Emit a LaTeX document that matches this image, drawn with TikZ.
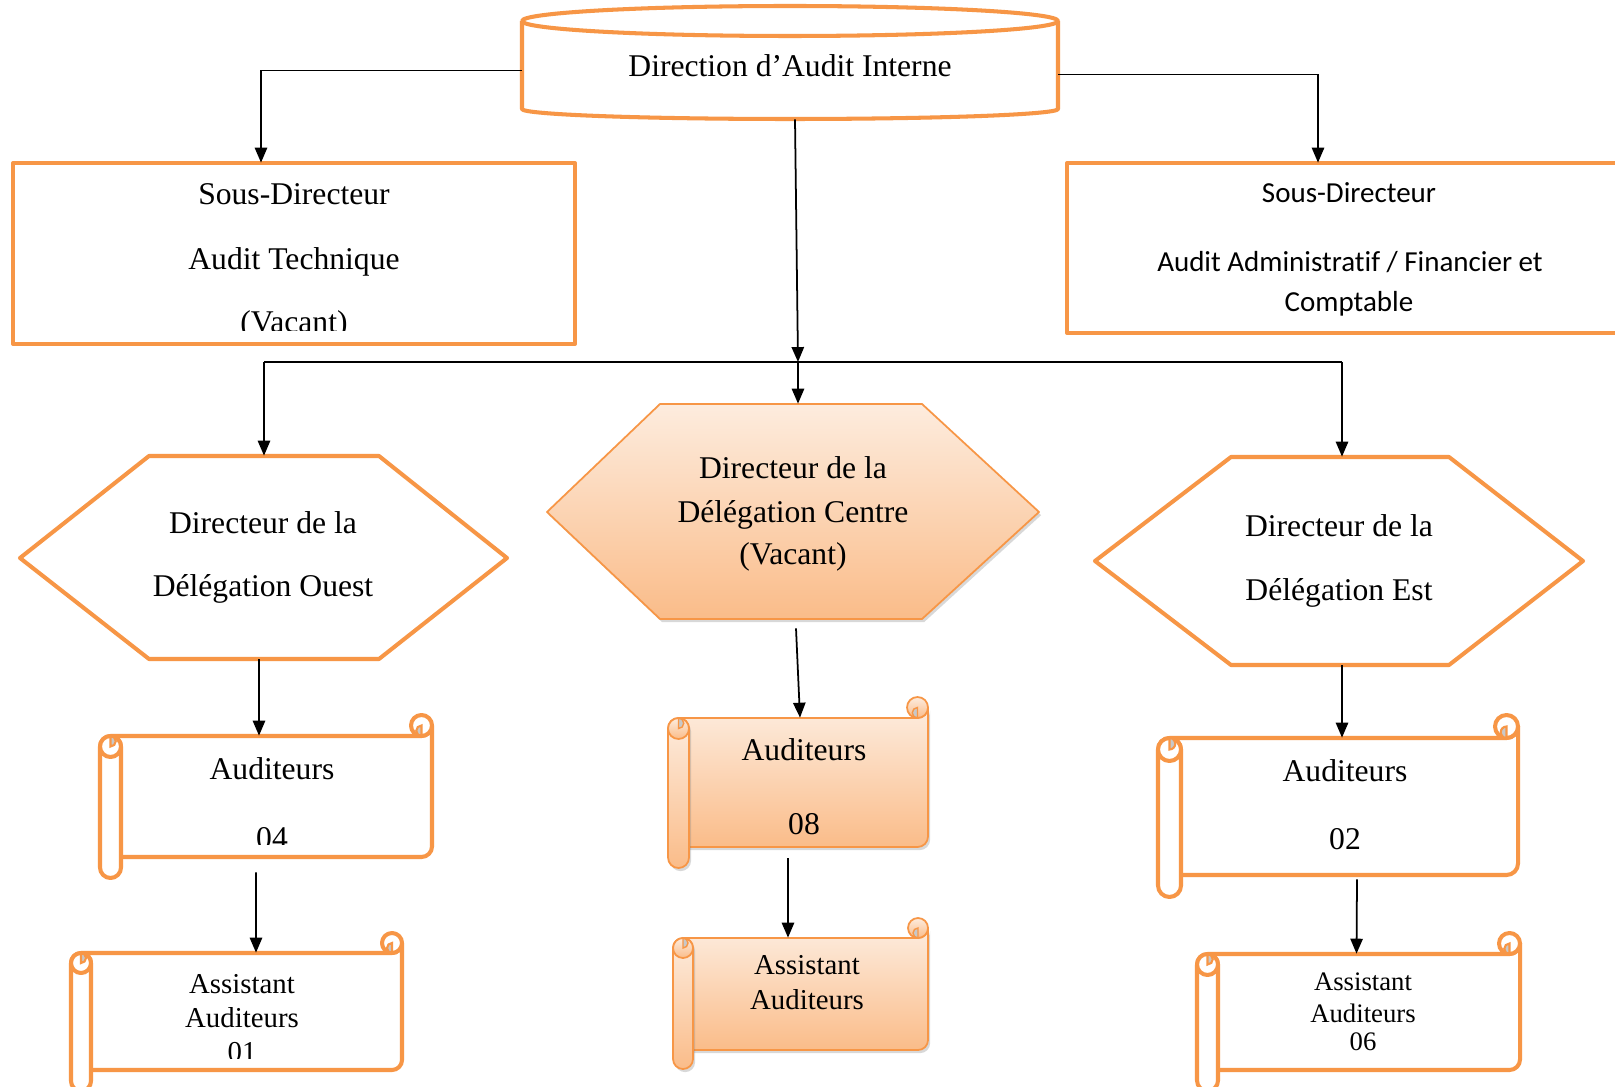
\documentclass[tikz,border=0pt]{standalone}
\usepackage{fontspec}
\setmainfont{Liberation Serif}
\newfontfamily\calib[Ligatures=NoCommon]{Carlito}
\usetikzlibrary{arrows.meta,calc,fit,shadows}
\definecolor{orng}{RGB}{247,150,70}
\definecolor{peachtop}{RGB}{253,236,222}
\definecolor{peachbot}{RGB}{250,188,137}
\definecolor{curlgray}{RGB}{200,200,200}
\tikzset{
 thickorange/.style={draw=orng, line width=2.3pt, fill=white, line join=round},
 gradorange/.style={draw=orng, line width=1pt, top color=peachtop, bottom color=peachbot, line join=round},
 sh/.style={drop shadow={shadow xshift=1.2pt, shadow yshift=-1.8pt, opacity=0.3, fill=black!50}},
 nosh/.style={},
 arr/.style={draw=black, line width=1pt, -{Triangle[length=8.5pt,width=7pt]}},
 plainline/.style={draw=black, line width=1pt},
 boxnode/.style={inner sep=0pt, draw=none},
 tA/.style={font=\fontsize{18}{22}\selectfont, anchor=base, inner sep=0pt},
 tB/.style={font=\fontsize{16.4}{20}\selectfont, anchor=base, inner sep=0pt},
 tC/.style={font=\fontsize{15.2}{18}\selectfont, anchor=base, inner sep=0pt},
 tD/.style={font=\calib\fontsize{16.5}{20}\selectfont, anchor=base, inner sep=0pt},
}
% #1 L, #2 T, #3 R, #4 body bottom, #5 tube bottom, #6 curl radius, #7 style, #8 inner line width, #9 shadow
\newcommand{\scrollshp}[9]{%
 \path[#7,#9] ({#1+#6},{#2+2*#6}) -- ({#3-#6},{#2+2*#6}) arc[start angle=90,end angle=0,radius=#6] -- (#3,{#4-#6}) arc[start angle=0,end angle=90,radius=#6] -- ({#1+#6},#4) -- cycle;
 \path[#7] ({#3-#6},{#2+#6}) circle[radius=#6];
 \path[fill=curlgray, draw=orng, line width=#8] ({#3-#6},{#2+#6}) arc[start angle=270,end angle=90,radius={#6/2}] -- cycle;
 \path[#7,#9] (#1,{#2+3*#6}) -- (#1,{#5-#6}) arc[start angle=180,end angle=0,radius=#6] -- ({#1+2*#6},{#2+3*#6}) arc[start angle=0,end angle=-180,radius=#6] -- cycle;
 \path[#7] ({#1+#6},{#2+3*#6}) circle[radius=#6];
 \path[fill=curlgray, draw=orng, line width=#8] ({#1+#6},{#2+2*#6}) arc[start angle=270,end angle=450,radius={#6/2}] -- cycle;
}
\begin{document}
\begin{tikzpicture}[x=0.02cm,y=-0.02cm]
\fill[white] (0,0) rectangle (1615,1087);
\useasboundingbox (0,0) rectangle (1615,1087);

% ---- Direction (cylinder)
\path[thickorange] (522,21) -- (522,109) arc[start angle=180,end angle=0,x radius=268,y radius=10] -- (1058,21);
\path[thickorange] (790,21) ellipse[x radius=268, y radius=15];
\node[boxnode, fit={(522,6)(1058,119)}] (dir) {};
\node[tA] (tdir) at (790,77) {Direction d’Audit Interne};

% ---- Sous-directeur technique
\path[thickorange] (13,163) rectangle (575,344);
\node[boxnode, fit={(13,163)(575,344)}] (techn) {};
\node[tA] (tte1) at (294,205) {Sous-Directeur};
\node[tA] (tte2) at (294,270) {Audit Technique};
\begin{scope}
\clip (13,163) rectangle (575,331);
\node[tA] (tte3) at (294,333) {(Vacant)};
\end{scope}

% ---- Sous-directeur administratif
\path[thickorange] (1067,163) rectangle (1640,333);
\node[boxnode, fit={(1067,163)(1625,333)}] (admin) {};
\node[tD] (tad1) at (1349,203) {Sous-Directeur};
\node[tD] (tad2) at (1350,272) {Audit Administratif / Financier et};
\node[tD] (tad3) at (1349,312) {Comptable};

% ---- Hexagons
\path[thickorange] (20,558) -- (149,456) -- (379,456) -- (507,558) -- (379,659) -- (149,659) -- cycle;
\node[boxnode, fit={(20,456)(507,659)}] (hexL) {};
\node[tA] (thl1) at (263,533) {Directeur de la};
\node[tA] (thl2) at (263,596) {Délégation Ouest};

\path[gradorange, sh] (547,512) -- (660,404) -- (922,404) -- (1039,512) -- (922,619) -- (660,619) -- cycle;
\node[boxnode, fit={(547,404)(1039,619)}] (hexC) {};
\node[tA] (thc1) at (793,479) {Directeur de la};
\node[tA] (thc2) at (793,522) {Délégation Centre};
\node[tA] (thc3) at (793,564) {(Vacant)};

\path[thickorange] (1095,561) -- (1231,457) -- (1449,457) -- (1583,561) -- (1449,665) -- (1231,665) -- cycle;
\node[boxnode, fit={(1095,457)(1583,665)}] (hexR) {};
\node[tA] (thr1) at (1339,536) {Directeur de la};
\node[tA] (thr2) at (1339,600) {Délégation Est};

% ---- Scrolls
\scrollshp{100}{715}{432}{857}{878}{10.5}{thickorange}{1.2pt}{nosh}
\node[boxnode, fit={(100,736)(432,857)}] (audL) {};
\node[tA] (tal1) at (272,779) {Auditeurs};
\begin{scope}
\clip (100,736) rectangle (432,844);
\node[tA] (tal2) at (272,848) {04};
\end{scope}

\scrollshp{668}{697}{928}{847}{868}{10.5}{gradorange}{0.8pt}{sh}
\node[boxnode, fit={(668,718)(928,847)}] (audC) {};
\node[tA] (tac1) at (804,760) {Auditeurs};
\node[tA] (tac2) at (804,834) {08};

\scrollshp{1158}{715}{1518}{875}{897}{11.5}{thickorange}{1.2pt}{nosh}
\node[boxnode, fit={(1158,738)(1518,875)}] (audR) {};
\node[tA] (tar1) at (1345,781) {Auditeurs};
\node[tA] (tar2) at (1345,849) {02};

\scrollshp{71}{933}{402}{1070}{1091}{10}{thickorange}{1.2pt}{nosh}
\node[boxnode, fit={(71,953)(402,1070)}] (assL) {};
\node[tB] (tsl1) at (242,993) {Assistant};
\node[tB] (tsl2) at (242,1027) {Auditeurs};
\begin{scope}
\clip (71,953) rectangle (402,1058);
\node[tB] (tsl3) at (242,1061) {01};
\end{scope}

\scrollshp{673}{918}{928}{1050}{1069}{10}{gradorange}{0.8pt}{sh}
\node[boxnode, fit={(673,938)(928,1050)}] (assC) {};
\node[tB] (tsc1) at (807,974) {Assistant};
\node[tB] (tsc2) at (807,1009) {Auditeurs};

\scrollshp{1197}{933}{1520}{1070}{1091}{10.5}{thickorange}{1.2pt}{nosh}
\node[boxnode, fit={(1197,954)(1520,1070)}] (assR) {};
\node[tC] (tsr1) at (1363,990) {Assistant};
\node[tC] (tsr2) at (1363,1022) {Auditeurs};
\node[tC] (tsr3) at (1363,1050) {06};

% ---- Connectors
\coordinate (jc) at (798,362);
\coordinate (busL) at (264,362);
\coordinate (busR) at (1342,362);
\draw[arr] ($(dir.west)+(0,8)$) -| ($(techn.north)+(-33,0)$);
\draw[arr] ($(dir.east)+(0,12)$) -| ($(admin.north)+(-28,0)$);
\draw[plainline] (busL) -- (busR);
\draw[arr] ($(dir.south)+(5,0)$) -- (jc);
\draw[arr] (jc) -- (jc |- hexC.north);
\draw[arr] (busL) -- (busL |- hexL.north);
\draw[arr] (busR) -- (busR |- hexR.north);
\draw[arr] ($(hexL.south)+(-4.5,0)$) -- ($(audL.north)+(-7,0)$);
\draw[arr] ($(hexC.south)+(3,9)$) -- ($(audC.north)+(2,0)$);
\draw[arr] ($(hexR.south)+(3,0)$) -- ($(audR.north)+(4,0)$);
\draw[arr] ($(audL.south)+(-10,15)$) -- ($(assL.north)+(19.5,0)$);
\draw[arr] ($(audC.south)+(-10,11)$) -- ($(assC.north)+(-12.5,0)$);
\draw[arr] ($(audR.south)+(19,4)$) -- ($(assR.north)+(-2,0)$);
\end{tikzpicture}
\end{document}
